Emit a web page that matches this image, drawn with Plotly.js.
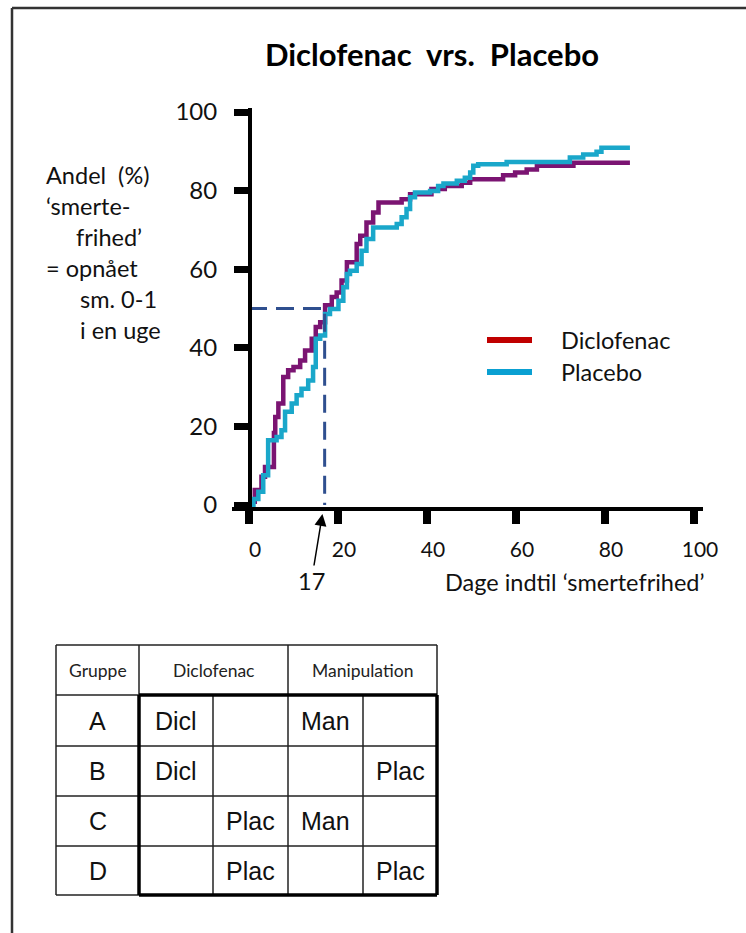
<!DOCTYPE html>
<html>
<head>
<meta charset="utf-8">
<script src="https://cdn.plot.ly/plotly-3.0.1.min.js"></script>
<style>html,body{margin:0;padding:0;background:#fff;}#chart{width:746px;height:933px;}</style>
</head>
<body>
<div id="chart"></div>
<script>
// ---------- data ----------
const titleText = "Diclofenac  vrs.  Placebo";
const seriesNames = ["Diclofenac", "Placebo"];
const diclDays = [0, 1.3, 2.8, 3.6, 5.6, 5.9, 6.6, 7.7, 8.8, 10, 11.5, 12.6, 14.1, 15, 16, 17.1, 18.6, 19.7, 20.8, 22, 24.2, 25, 26.4, 27.9, 29.1, 34.3, 36.2, 41, 44, 47.8, 49.7, 57.1, 59.8, 62.4, 64.7, 72.9, 85.6];
const diclPct  = [0.8, 3.8, 7.2, 9.7, 18.3, 22.4, 25.8, 32.6, 34.3, 35.1, 36.8, 39.3, 42.3, 45.3, 46.5, 50.8, 52.9, 54.1, 57.1, 61.8, 66.4, 68.5, 71.9, 74.4, 77, 77.8, 79.1, 80.4, 81.2, 82, 82.9, 83.9, 84.6, 85.4, 86.3, 87.1, 87.1];
const placDays = [0.6, 1.0, 2.1, 3.2, 4.3, 6.2, 7.3, 8.1, 9.6, 10.7, 11.8, 13.3, 14.4, 15, 16, 17.1, 18.2, 20.1, 21.2, 22, 22.7, 24.2, 25.3, 26.4, 27.9, 33.2, 34.3, 35.4, 36.2, 37.3, 40.7, 42.5, 43.7, 46.7, 48.5, 49.7, 50.4, 51.5, 57.9, 72.1, 75.1, 78.1, 79.2, 85.6];
const placPct  = [0, 1.5, 3.4, 7.6, 16.5, 17.3, 19, 23.7, 25.8, 27.9, 29.6, 31.7, 35.1, 42.3, 43.1, 48.6, 49.9, 52, 55.4, 58.8, 59.6, 61.3, 64.7, 67.7, 70.6, 71.5, 73.2, 75.3, 78.3, 79.5, 79.9, 81.2, 81.8, 82.5, 83.3, 84.6, 86.3, 86.7, 87.3, 88.4, 89.2, 89.9, 90.9, 90.9];
const medianDay = 17;
const medianPct = 50;
const xTickVals = [0, 20, 40, 60, 80, 100];
const yTickVals = [0, 20, 40, 60, 80, 100];
const xTitle = "Dage indtil ‘smertefrihed’";
const yTitleLines = ["Andel  (%)", "‘smerte-", "frihed’", "= opnået", "sm. 0-1", "i en uge"];
const tableHeader = ["Gruppe", "Diclofenac", "Manipulation"];
const tableGroups = ["A", "B", "C", "D"];
const colDicl = ["Dicl", "Dicl", "", ""];
const colDiclPlac = ["", "", "Plac", "Plac"];
const colMan = ["Man", "", "Man", ""];
const colManPlac = ["", "Plac", "", "Plac"];

// ---------- styling / layout constants ----------
const W = 746, H = 933;
const L = 232, R = 703, T = 108, B = 507;
const px = x => (x - L) / (R - L);
const py = y => (B - y) / (B - T);
const calibri = "Lato, 'Open Sans', sans-serif";
const arial = "'Liberation Sans', Arial, sans-serif";
const lineColors = ["#7B1472", "#1AA7CA"];
const legendColors = ["#C00000", "#0AA0D2"];
const textFont = {family: calibri, size: 23.5, color: "#111"};

const traces = [
  {x: diclDays, y: diclPct, mode: "lines", name: seriesNames[0], line: {shape: "hv", color: lineColors[0], width: 4.5}, showlegend: false, hoverinfo: "skip"},
  {x: placDays, y: placPct, mode: "lines", name: seriesNames[1], line: {shape: "hv", color: lineColors[1], width: 4.5}, showlegend: false, hoverinfo: "skip"},
  {x: [0, medianDay, medianDay], y: [medianPct, medianPct, 0], mode: "lines", line: {color: "#2F4F8F", width: 3, dash: "18px,9px"}, showlegend: false, hoverinfo: "skip"}
];

const annotations = [];
const shapes = [];
function seg(x0, y0, x1, y1, ln) {
  shapes.push({type: "line", xref: "paper", yref: "paper", x0: px(x0), y0: py(y0), x1: px(x1), y1: py(y1), line: ln});
}

const yTitleX = [44, 44, 74, 44, 78, 78];
yTitleLines.forEach((t, i) => {
  annotations.push({text: t, xref: "paper", yref: "paper", x: px(yTitleX[i]), y: py(175 + 31 * i),
    xanchor: "left", yanchor: "middle", showarrow: false, font: textFont});
});
annotations.push({text: xTitle, xref: "paper", yref: "paper", x: px(707), y: py(582), xanchor: "right", yanchor: "middle",
  showarrow: false, font: textFont});
annotations.push({text: String(medianDay), xref: "x", yref: "paper", x: medianDay - 0.5, y: py(514), ax: -11, ay: 67,
  showarrow: true, arrowhead: 2, arrowsize: 1.6, arrowwidth: 1.5, arrowcolor: "#000", font: textFont});

// legend (key drawn beside the curves)
seriesNames.forEach((n, i) => {
  const yy = 340 + 32 * i;
  seg(487, yy, 532, yy, {color: legendColors[i], width: 6});
  annotations.push({text: n, xref: "paper", yref: "paper", x: px(559), y: py(yy), xanchor: "left", yanchor: "middle", showarrow: false, font: textFont});
});

// ---------- table (drawn with shapes + annotations) ----------
const colX = [56, 139, 213, 288, 363, 437];
const rowY = [645, 695, 746, 796, 846, 895];
const thin = {color: "#222", width: 1.5};
const thick = {color: "#000", width: 3.5};
// page border
seg(12, 8, 12, 933, {color: "#333", width: 2.5});
seg(12, 8, 746, 8, {color: "#333", width: 2.5});
// header
seg(colX[0], rowY[0], colX[5], rowY[0], thin);
seg(colX[0], rowY[0], colX[0], rowY[5], thin);
seg(colX[5], rowY[0], colX[5], rowY[1], thin);
seg(colX[1], rowY[0], colX[1], rowY[1], thin);
seg(colX[3], rowY[0], colX[3], rowY[1], thin);
seg(colX[0], rowY[1], colX[1], rowY[1], thin);
seg(colX[0], rowY[5], colX[1], rowY[5], thin);
for (let r = 2; r <= 4; r++) seg(colX[0], rowY[r], colX[5], rowY[r], thin);
for (let c = 2; c <= 4; c++) seg(colX[c], rowY[1], colX[c], rowY[5], thin);
seg(colX[1], rowY[1], colX[5], rowY[1], thick);
seg(colX[1], rowY[5], colX[5], rowY[5], thick);
seg(colX[1], rowY[1], colX[1], rowY[5], thick);
seg(colX[5], rowY[1], colX[5], rowY[5], thick);

function cellText(t, x, y, font) {
  if (!t) return;
  annotations.push({text: t, xref: "paper", yref: "paper", x: px(x), y: py(y), xanchor: "center", yanchor: "middle", showarrow: false, font: font});
}
const hFont = {family: calibri, size: 17.5, color: "#222"};
const bFont = {family: arial, size: 25, color: "#111"};
cellText(tableHeader[0], (colX[0] + colX[1]) / 2, (rowY[0] + rowY[1]) / 2, hFont);
cellText(tableHeader[1], (colX[1] + colX[3]) / 2, (rowY[0] + rowY[1]) / 2, hFont);
cellText(tableHeader[2], (colX[3] + colX[5]) / 2, (rowY[0] + rowY[1]) / 2, hFont);
const cols = [tableGroups, colDicl, colDiclPlac, colMan, colManPlac];
cols.forEach((col, c) => col.forEach((t, r) => {
  cellText(t, (colX[c] + colX[c + 1]) / 2, (rowY[r + 1] + rowY[r + 2]) / 2, bFont);
}));

const layout = {
  width: W, height: H,
  margin: {l: L, r: W - R, t: T, b: H - B, pad: 0},
  paper_bgcolor: "#fff", plot_bgcolor: "rgba(0,0,0,0)",
  showlegend: false,
  title: {text: "<b>" + titleText + "</b>", x: px(432), xref: "paper", xanchor: "center", y: 1 - 55 / H, yref: "container", yanchor: "middle",
    font: {family: calibri, size: 31, color: "#000"}},
  xaxis: {range: [-3.82, 102.02], showgrid: false, zeroline: false, showline: true, linewidth: 4, linecolor: "#000",
    ticks: "outside", ticklen: 13, tickwidth: 8, tickcolor: "#000", tickvals: xTickVals, ticklabelshift: 6, ticklabelstandoff: 8,
    tickfont: {family: calibri, size: 21, color: "#111"}},
  yaxis: {range: [-0.51, 101.02], anchor: "free", position: px(250), showgrid: false, zeroline: false, showline: true, linewidth: 4, linecolor: "#000",
    ticks: "outside", ticklen: 14, tickwidth: 7, tickcolor: "#000", tickvals: yTickVals, ticklabelstandoff: 12,
    tickfont: {family: calibri, size: 24, color: "#111"}},
  shapes: shapes,
  annotations: annotations
};

Plotly.newPlot("chart", traces, layout, {staticPlot: true, displayModeBar: false});
</script>
</body>
</html>
